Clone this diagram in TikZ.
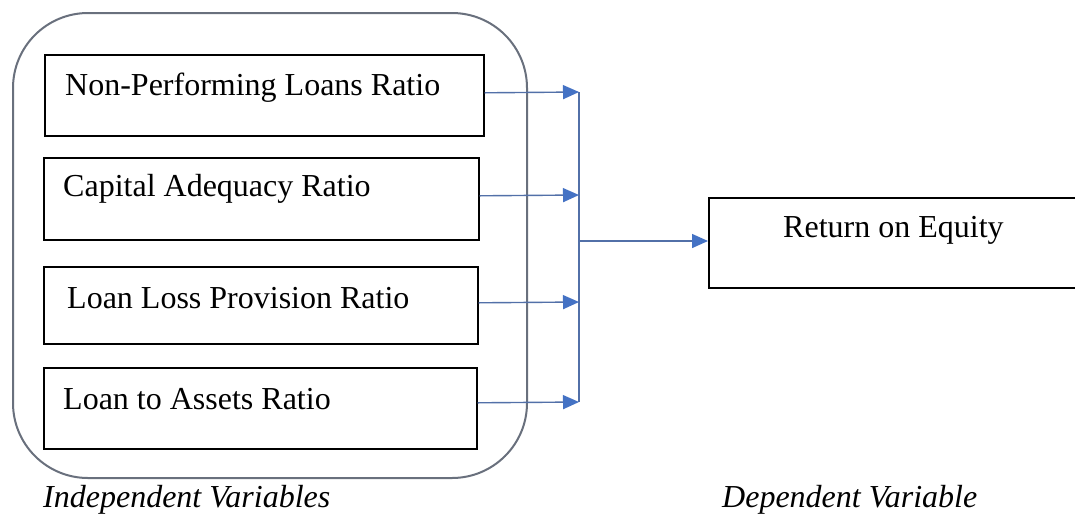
\documentclass[tikz,border=0pt]{standalone}
\usepackage{fontspec}
\setmainfont{Liberation Serif}
\usetikzlibrary{arrows.meta}
\definecolor{framegray}{RGB}{105,112,125}
\definecolor{connblue}{RGB}{82,112,168}
\definecolor{tipblue}{RGB}{68,114,196}
\begin{document}
\begin{tikzpicture}[x=1pt,y=-1pt,
  varbox/.style={draw=black,line width=1.6pt,rectangle,anchor=north west,inner sep=0pt},
  vartext/.style={anchor=west,inner sep=0pt,font=\fontsize{32}{38}\selectfont},
  caption/.style={anchor=west,inner sep=0pt,font=\fontsize{32}{38}\selectfont\itshape},
  conn/.style={draw=connblue,line width=1.4pt},
  connarrow/.style={conn,-{Triangle[length=16pt,width=14pt,fill=tipblue,color=tipblue]}}]
\useasboundingbox (0,0) rectangle (1075,515);
\clip (0,0) rectangle (1075,515);
\fill[white] (0,0) rectangle (1075,515);
% container
\draw[framegray,line width=2pt,rounded corners=75pt] (13,13) rectangle (527,478);
% boxes
\node[varbox,minimum width=439pt,minimum height=81pt] (b1) at (44,54) {};
\node[varbox,minimum width=435pt,minimum height=82pt] (b2) at (43,157) {};
\node[varbox,minimum width=434pt,minimum height=77pt] (b3) at (43,266) {};
\node[varbox,minimum width=433pt,minimum height=81pt] (b4) at (43,367) {};
\node[varbox,minimum width=400pt,minimum height=90pt] (ret) at (708,197) {};
% texts
\node[vartext] (t1) at (65,88) {Non-Performing Loans Ratio};
\node[vartext] (t2) at (63,189) {Capital Adequacy Ratio};
\node[vartext] (t3) at (67,298) {Loan Loss Provision Ratio};
\node[vartext] (t4) at (63,399) {Loan to Assets Ratio};
\node[vartext] (t5) at (783,230) {Return on Equity};
\node[caption] (c1) at (43,500) {Independent Variables};
\node[caption] (c2) at (722,500) {Dependent Variable};
% bus
\coordinate (bustop) at (579,92);
\coordinate (busbot) at (579,402);
\coordinate (busmid) at (579,241);
\coordinate (a1) at (579,92);
\coordinate (a2) at (579,195);
\coordinate (a3) at (579,302);
\coordinate (a4) at (579,402);
\draw[conn] (bustop) -- (busbot);
\draw[connarrow] ([yshift=2.5pt]b1.east) -- (a1);
\draw[connarrow] ([yshift=3pt]b2.east) -- (a2);
\draw[connarrow] ([yshift=2.5pt]b3.east) -- (a3);
\draw[connarrow] ([yshift=5.5pt]b4.east) -- (a4);
\draw[connarrow] (busmid) -- (ret.west |- busmid);
\end{tikzpicture}
\end{document}
